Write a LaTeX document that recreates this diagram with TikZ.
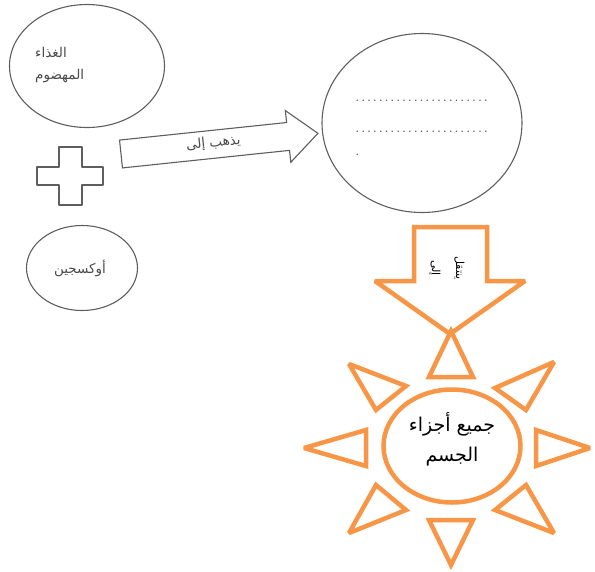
\documentclass[tikz,border=0pt]{standalone}
\usepackage{fontspec}
\usetikzlibrary{shapes.geometric}
\TeXXeTstate=1
\newfontfamily\arabicfont[Script=Arabic]{DejaVu Sans}
\setmainfont{Liberation Sans}
\definecolor{linegray}{HTML}{5E5E5E}
\definecolor{textgray}{HTML}{4A4A4A}
\definecolor{sunorange}{HTML}{F79646}
\begin{document}
\begin{tikzpicture}[x=1pt,y=-1pt,line join=round]
\useasboundingbox (0,0) rectangle (595,571);
\tikzset{
  grayline/.style={draw=linegray,line width=1.1pt,fill=white},
  orangeline/.style={draw=sunorange,line width=4.5pt,fill=white,line join=miter,miter limit=3},
  smalltext/.style={text=textgray,font=\arabicfont\fontsize{13.5}{15}\selectfont,inner sep=0pt},
  dotrow/.style={text=linegray,font=\bfseries\fontsize{9}{11}\selectfont,inner sep=0pt,anchor=base west},
  raybox/.style={orangeline},
}
% left ellipses
\node[grayline,ellipse,minimum width=155pt,minimum height=123pt,inner sep=0pt] (food) at (87,66) {};
\node[smalltext,anchor=west] (foodA) at (35,52) {\beginR الغذاء\endR};
\node[smalltext,anchor=west] (foodB) at (35,76) {\beginR المهضوم\endR};
% plus sign
\draw[grayline] (59,147) -- (82,147) -- (82,167) -- (103,167) -- (103,185) -- (82,185)
  -- (82,205) -- (59,205) -- (59,185) -- (37,185) -- (37,167) -- (59,167) -- cycle;
\node[grayline,ellipse,minimum width=111pt,minimum height=85pt,inner sep=0pt] (oxy) at (82,268) {};
\node[smalltext] (oxyT) at (80,268) {\beginR أوكسجين\endR};
% right block arrow
\begin{scope}[shift={(121,154)},rotate=6]
  \draw[grayline,line join=miter] (0,-14) -- (168,-14) -- (168,-26) -- (198,0) -- (168,26)
    -- (168,14) -- (0,14) -- cycle;
  \node[smalltext,rotate=6] (goes) at (93,-1) {\beginR يذهب إلى\endR};
\end{scope}
% big ellipse
\node[grayline,ellipse,minimum width=200pt,minimum height=179pt,inner sep=0pt] (blood) at (422,123) {};
\node[dotrow] (row1) at (356,101) {. . . . . . . . . . . . . . . . . . . . . . .};
\node[dotrow] (row2) at (356,132) {. . . . . . . . . . . . . . . . . . . . . . .};
\node[dotrow] (row3) at (356,155) {.};
% down block arrow
\draw[orangeline] (414,227) -- (487,227) -- (487,281) -- (525,281) -- (450,334)
  -- (375,281) -- (414,281) -- cycle;
\node[text=black,font=\arabicfont\fontsize{11}{24}\selectfont,rotate=-90,align=center,inner sep=0pt] (carry) at (447,268)
  {\beginR ينتقل\endR\\\beginR إلى\endR};
% sun rays
\draw[raybox] (451,331) -- (429,377) -- (473,377) -- cycle;
\draw[raybox] (451,565) -- (429,520) -- (473,520) -- cycle;
\draw[raybox] (304,448) -- (366,430) -- (366,466) -- cycle;
\draw[raybox] (590,448) -- (536,430) -- (536,466) -- cycle;
\draw[raybox] (349,364) -- (406,386) -- (376,410) -- cycle;
\draw[raybox] (554,362) -- (495,388) -- (526,410) -- cycle;
\draw[raybox] (349,533) -- (406,510) -- (376,485) -- cycle;
\draw[raybox] (554,533) -- (495,510) -- (526,485) -- cycle;
\node[orangeline,ellipse,minimum width=137pt,minimum height=113pt,inner sep=0pt] (body) at (452,446) {};
\node[text=black,font=\arabicfont\fontsize{19}{30}\selectfont,align=center,inner sep=0pt] (bodyT) at (452,439)
  {\beginR جميع أجزاء\endR\\\beginR الجسم\endR};
\end{tikzpicture}
\end{document}
